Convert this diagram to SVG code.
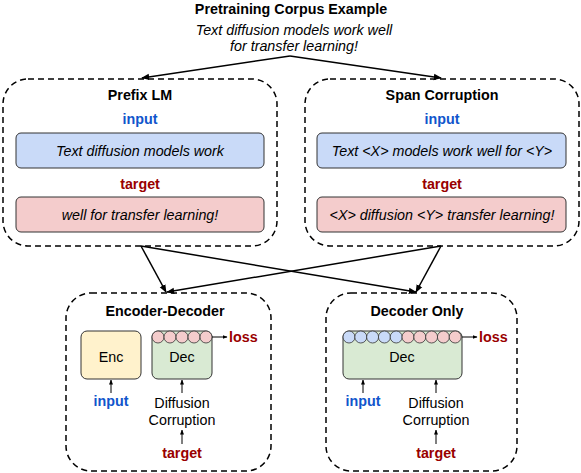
<svg xmlns="http://www.w3.org/2000/svg" width="581" height="473" viewBox="0 0 581 473">
<defs>
<marker id="ah" viewBox="0 0 10 10" refX="9" refY="5" markerWidth="8" markerHeight="8" markerUnits="userSpaceOnUse" orient="auto">
<path d="M0,1 L10,5 L0,9 z" fill="#000"/>
</marker>
<marker id="sah" viewBox="0 0 10 10" refX="9" refY="5" markerWidth="5" markerHeight="5" markerUnits="userSpaceOnUse" orient="auto">
<path d="M0,1 L10,5 L0,9 z" fill="#000"/>
</marker>
<style>
text{font-family:"Liberation Sans",Arial,sans-serif;font-size:14.3px;fill:#000}
.b{font-weight:bold}
.i{font-style:italic}
.m{text-anchor:middle}
.blue{fill:#1155cc;font-weight:bold}
.red{fill:#990000;font-weight:bold}
.grp{fill:none;stroke:#000;stroke-width:1.5;stroke-dasharray:6 4}
.inbox{fill:#c9daf8;stroke:#333;stroke-width:1}
.tgbox{fill:#f4cccc;stroke:#333;stroke-width:1}
.enc{fill:#fff2cc;stroke:#333;stroke-width:1}
.dec{fill:#d9ead3;stroke:#333;stroke-width:1}
.cp{fill:#f4cccc;stroke:#333;stroke-width:0.8}
.cb{fill:#c9daf8;stroke:#333;stroke-width:0.8}
.con{fill:none;stroke:#000;stroke-width:1.5;marker-end:url(#ah)}
.sm{fill:none;stroke:#000;stroke-width:1;marker-end:url(#sah)}
</style>
</defs>
<rect width="581" height="473" fill="#fff"/>

<g id="corpus">
<text class="b m" x="291" y="14">Pretraining Corpus Example</text>
<text class="i m" x="294" y="35">Text diffusion models work well</text>
<text class="i m" x="294" y="51">for transfer learning!</text>
</g>

<g id="prefix-lm">
<rect class="grp" x="3" y="79" width="274" height="167" rx="25"/>
<text class="b m" x="140" y="100">Prefix LM</text>
<text class="blue m" x="140" y="124">input</text>
<rect class="inbox" x="16" y="133" width="248" height="35" rx="5"/>
<text class="i m" x="140" y="156">Text diffusion models work</text>
<text class="red m" x="140" y="189">target</text>
<rect class="tgbox" x="16" y="197" width="248" height="35" rx="5"/>
<text class="i m" x="140" y="220">well for transfer learning!</text>
</g>

<g id="span-corruption">
<rect class="grp" x="305" y="79" width="274" height="167" rx="25"/>
<text class="b m" x="442" y="100">Span Corruption</text>
<text class="blue m" x="442" y="124">input</text>
<rect class="inbox" x="317" y="133" width="249" height="35" rx="5"/>
<text class="i m" x="442" y="156">Text &lt;X&gt; models work well for &lt;Y&gt;</text>
<text class="red m" x="442" y="189">target</text>
<rect class="tgbox" x="317" y="197" width="249" height="35" rx="5"/>
<text class="i m" x="442" y="220">&lt;X&gt; diffusion &lt;Y&gt; transfer learning!</text>
</g>

<g id="encoder-decoder">
<rect class="grp" x="66" y="293" width="205" height="178" rx="25"/>
<text class="b m" x="165" y="316">Encoder-Decoder</text>
<rect class="enc" x="81" y="331" width="60" height="48" rx="6"/>
<text class="m" x="111" y="362">Enc</text>
<rect class="dec" x="152" y="331" width="60" height="48" rx="6"/>
<circle class="cp" cx="158" cy="337" r="6"/>
<circle class="cp" cx="170" cy="337" r="6"/>
<circle class="cp" cx="182" cy="337" r="6"/>
<circle class="cp" cx="194" cy="337" r="6"/>
<circle class="cp" cx="206" cy="337" r="6"/>
<text class="m" x="182" y="362">Dec</text>
<path class="sm" d="M212,337 H227"/>
<text class="red" x="229" y="342">loss</text>
<path class="sm" d="M111,393 V380"/>
<text class="blue m" x="111" y="406">input</text>
<path class="sm" d="M182,393 V380"/>
<text class="m" x="182" y="408">Diffusion</text>
<text class="m" x="182" y="425">Corruption</text>
<path class="sm" d="M182,444 V430"/>
<text class="red m" x="182" y="458">target</text>
</g>

<g id="decoder-only">
<rect class="grp" x="326" y="293" width="191" height="178" rx="25"/>
<text class="b m" x="417" y="316">Decoder Only</text>
<rect class="dec" x="343" y="331" width="119" height="48" rx="6"/>
<circle class="cb" cx="349" cy="337" r="6"/>
<circle class="cb" cx="360.8" cy="337" r="6"/>
<circle class="cb" cx="372.6" cy="337" r="6"/>
<circle class="cb" cx="384.4" cy="337" r="6"/>
<circle class="cb" cx="396.2" cy="337" r="6"/>
<circle class="cp" cx="408" cy="337" r="6"/>
<circle class="cp" cx="419.8" cy="337" r="6"/>
<circle class="cp" cx="431.6" cy="337" r="6"/>
<circle class="cp" cx="443.4" cy="337" r="6"/>
<circle class="cp" cx="455.2" cy="337" r="6"/>
<text class="m" x="402" y="362">Dec</text>
<path class="sm" d="M462,337 H477"/>
<text class="red" x="479" y="342">loss</text>
<path class="sm" d="M363,393 V380"/>
<text class="blue m" x="363" y="406">input</text>
<path class="sm" d="M436,393 V380"/>
<text class="m" x="436" y="408">Diffusion</text>
<text class="m" x="436" y="425">Corruption</text>
<path class="sm" d="M436,444 V430"/>
<text class="red m" x="436" y="458">target</text>
</g>

<g id="connectors">
<path class="con" d="M290,56 L142,78"/>
<path class="con" d="M290,56 L441,78"/>
<path class="con" d="M141,246 L166,292"/>
<path class="con" d="M141,246 L416,292"/>
<path class="con" d="M441,246 L416,292"/>
<path class="con" d="M441,246 L167,292"/>
</g>
</svg>
